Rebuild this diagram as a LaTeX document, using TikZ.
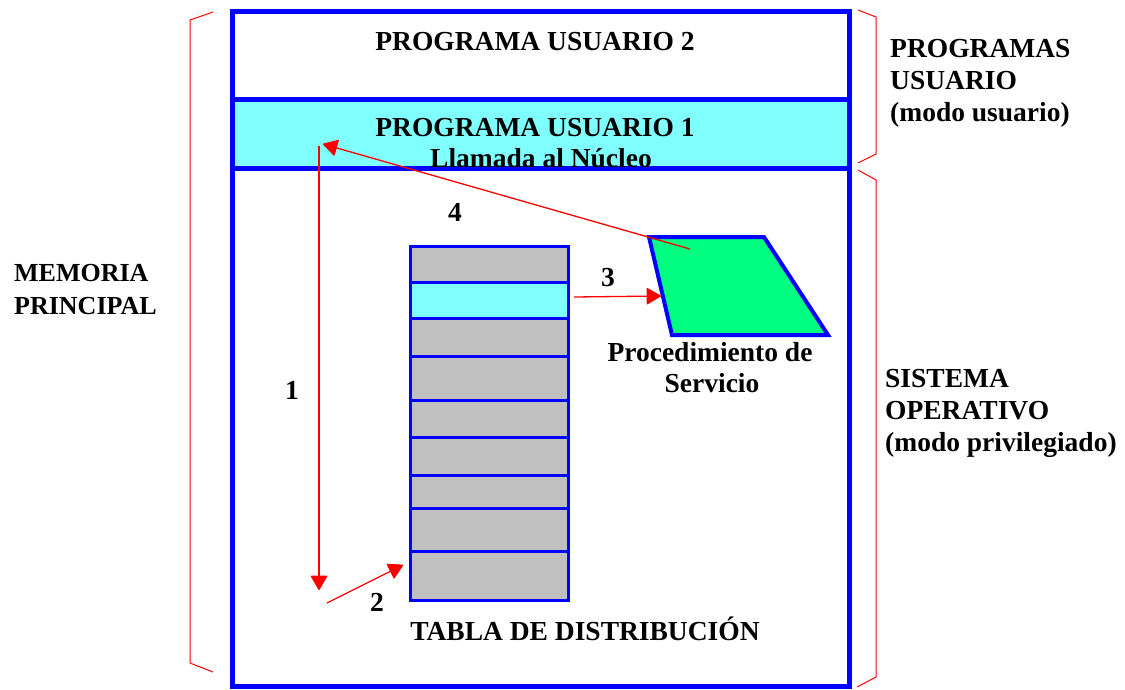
\documentclass[tikz,border=0pt]{standalone}
\usepackage{fontspec}
\setmainfont{Liberation Serif}
\usetikzlibrary{arrows.meta}
\definecolor{cblue}{HTML}{0000FF}
\definecolor{ccyan}{HTML}{80FFFF}
\definecolor{cgray}{HTML}{C0C0C0}
\definecolor{cgreen}{HTML}{00FF80}
\definecolor{cred}{HTML}{FF0000}
\tikzset{
  lbl/.style={inner sep=0pt, anchor=base, font=\fontsize{27.5}{32}\selectfont\bfseries},
  lblb/.style={lbl},
  lblr/.style={lblb, anchor=base west},
  bracket/.style={draw=cred, line width=1pt},
  flow/.style={draw=cred, line width=1.3pt, -{Triangle[length=15pt,width=17pt,round,fill=cred]}},
  tabrow/.style={draw=cblue, line width=3pt},
}
\begin{document}
\begin{tikzpicture}[x=1pt,y=-1pt]
\useasboundingbox (0,0) rectangle (1125,689);
% main memory box
\fill[ccyan] (232,99) rectangle (849,168);
\draw[cblue, line width=5pt] (232,11) rectangle (849,686);
\draw[cblue, line width=5pt] (232,99) -- (849,99);
\draw[cblue, line width=5pt] (232,168) -- (849,168);
% table
\fill[cgray] (410,246) rectangle (568,600);
\fill[ccyan] (410,282) rectangle (568,318);
\foreach \yy in {282,318,356,400,437,475,508,551}
  \draw[tabrow] (410,\yy) -- (568,\yy);
\draw[tabrow] (410,246) rectangle (568,600);
% service procedure
\draw[cblue, line width=4pt, fill=cgreen, line join=miter] (649,237) -- (764,237) -- (828,335) -- (672,335) -- cycle;
% texts
\node[lbl] (pu2) at (535,50) {PROGRAMA USUARIO 2};
\node[lbl] (pu1) at (535,136) {PROGRAMA USUARIO 1};
\node[lbl] (llam) at (541,167) {Llamada al Núcleo};
\node[lblr] (r1) at (890,57) {PROGRAMAS};
\node[lblr] (r2) at (890,89) {USUARIO};
\node[lblr] (r3) at (890,121) {(modo usuario)};
\node[lblr] (s1) at (885,387) {SISTEMA};
\node[lblr] (s2) at (885,419) {OPERATIVO};
\node[lblr] (s3) at (885,451) {(modo privilegiado)};
\node[lbl, anchor=base west, font=\fontsize{26}{32}\selectfont\bfseries] (m1) at (14,281) {MEMORIA};
\node[lbl, anchor=base west, font=\fontsize{26}{32}\selectfont\bfseries] (m2) at (14,314) {PRINCIPAL};
\node[lblb] (proc1) at (710,361) {Procedimiento de};
\node[lblb] (proc2) at (712,392) {Servicio};
\node[lbl] (tabla) at (585,640) {TABLA DE DISTRIBUCIÓN};
\node[lblb] (n1) at (292,399) {1};
\node[lblb] (n2) at (377,611) {2};
\node[lblb] (n3) at (608,286) {3};
\node[lblb] (n4) at (455,221) {4};
% brackets
\draw[bracket] (213,12) -- (190,20) -- (190,663) -- (213,672);
\draw[bracket] (858,10) -- (876,17) -- (876,154) -- (858,163);
\draw[bracket] (858,170) -- (876,180) -- (876,677) -- (857,687);
% arrow coordinates
\coordinate (a1s) at (319,146);
\coordinate (a1e) at (319,590);
\coordinate (a2s) at (327,603);
\coordinate (a2e) at (403,565);
\coordinate (a3s) at (574,297);
\coordinate (a3e) at (661,296);
\coordinate (a4s) at (690,249);
\coordinate (a4e) at (323,144);
\draw[flow] (a1s) -- (a1e);
\draw[flow] (a2s) -- (a2e);
\draw[flow] (a3s) -- (a3e);
\draw[flow] (a4s) -- (a4e);
\end{tikzpicture}
\end{document}
